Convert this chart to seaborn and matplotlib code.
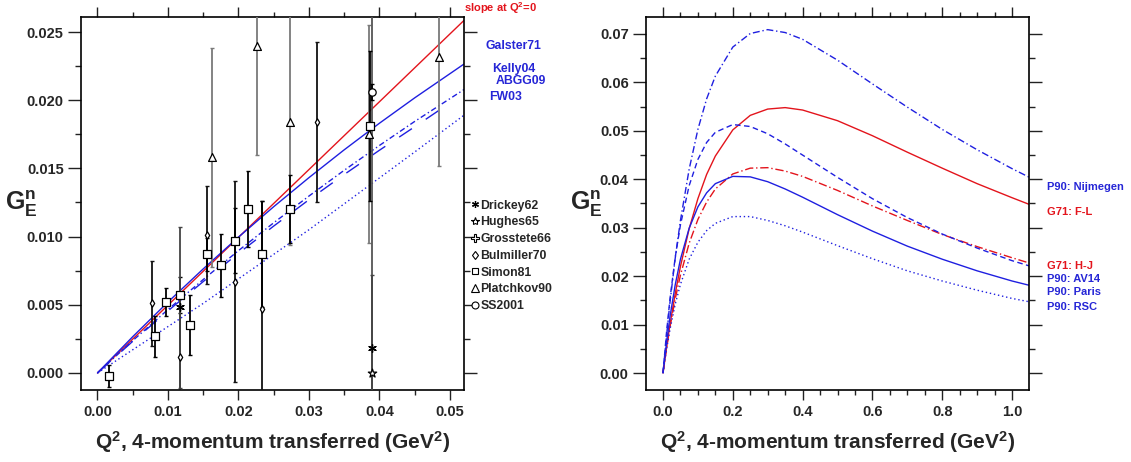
import numpy as np
import pandas as pd
import matplotlib
matplotlib.use("Agg")
import matplotlib.pyplot as plt
import seaborn as sns
from matplotlib.ticker import MultipleLocator, FormatStrFormatter
from matplotlib.lines import Line2D

# ---------------- data: left panel (low Q^2) ----------------
q2_slope = [0.0, 0.052]
ge_slope = [0.0, 0.02585]

q2_low = [0.0, 0.005, 0.01, 0.015, 0.02, 0.025, 0.03, 0.035, 0.04, 0.045, 0.052]
ge_galster71 = [0.0, 0.00266, 0.0052, 0.00763, 0.00996, 0.01219, 0.01432, 0.01636, 0.01831, 0.02017, 0.02265]
ge_kelly04 = [0.0, 0.00237, 0.00465, 0.00685, 0.00897, 0.01101, 0.01297, 0.01486, 0.01668, 0.01844, 0.02078]
ge_fw03 = [0.0, 0.0017, 0.0034, 0.0051, 0.0069, 0.0087, 0.0105, 0.0124, 0.0143, 0.0162, 0.0189]
q2_abgg = [0.0, 0.005, 0.01, 0.015, 0.02, 0.025, 0.03, 0.035, 0.04, 0.045, 0.0495]
ge_abgg09 = [0.0, 0.00232, 0.00455, 0.0067, 0.00877, 0.01077, 0.0127, 0.01455, 0.01633, 0.01805, 0.01962]

q2_simon = [0.0017, 0.0082, 0.0097, 0.0117, 0.0131, 0.0156, 0.0175, 0.0195, 0.0214, 0.0234, 0.0273, 0.0387]
ge_simon = [-0.0002, 0.0027, 0.0052, 0.0057, 0.0035, 0.0087, 0.0079, 0.0097, 0.0120, 0.0087, 0.0120, 0.0181]
err_simon = [0.0008, 0.0015, 0.0010, 0.0013, 0.0022, 0.0012, 0.0023, 0.0024, 0.0028, 0.0039, 0.0025, 0.0055]

q2_bulmiller = [0.0078, 0.0117, 0.0156, 0.0195, 0.0234, 0.0312]
ge_bulmiller = [0.0051, 0.0012, 0.0101, 0.0067, 0.0047, 0.0184]
err_bulmiller = [0.0031, 0.0045, 0.0036, 0.0074, 0.0079, 0.0059]

q2_platchkov = [0.0162, 0.0226, 0.0273, 0.0385, 0.0485]
ge_platchkov = [0.0158, 0.0240, 0.0184, 0.0175, 0.0232]
err_platchkov = [0.0080, 0.0080, 0.0090, 0.0080, 0.0080]

q2_drickey = [0.0117, 0.0390]
ge_drickey = [0.0048, 0.0018]
err_drickey = [0.0059, 0.0054]

q2_hughes = [0.0390]
ge_hughes = [0.0]
err_hughes = [0.030]

q2_ss2001 = [0.0390]
ge_ss2001 = [0.0206]
err_ss2001 = [0.0006]

legend_labels = ["Drickey62", "Hughes65", "Grosstete66", "Bulmiller70",
                 "Simon81", "Platchkov90", "SS2001"]

# ---------------- data: right panel (wide Q^2) ----------------
q2_wide = [0, 0.01, 0.02, 0.035, 0.05, 0.075, 0.1, 0.125, 0.15, 0.2, 0.25, 0.3,
           0.35, 0.4, 0.5, 0.6, 0.7, 0.8, 0.9, 1.0, 1.05]
ge_nijmegen = [0, .0076, .0146, .0237, .0315, .0421, .0503, .0566, .0613, .0673, .0701, .0709,
               .0703, .0689, .0646, .0597, .0549, .0503, .0461, .0422, .0404]
ge_fl = [0, .0052, .0100, .0164, .0220, .0298, .0360, .0410, .0448, .0502, .0532, .0545,
         .0548, .0543, .0521, .0490, .0456, .0423, .0391, .0362, .0348]
ge_hj = [0, .0050, .0095, .0153, .0202, .0268, .0317, .0353, .0380, .0411, .0423, .0424,
         .0417, .0406, .0377, .0345, .0315, .0286, .0261, .0238, .0227]
ge_av14 = [0, .0083, .0153, .0239, .0306, .0387, .0441, .0476, .0497, .0513, .0509, .0494,
           .0473, .0450, .0404, .0360, .0321, .0287, .0258, .0232, .0221]
ge_paris = [0, .0062, .0116, .0182, .0235, .0299, .0343, .0372, .0391, .0406, .0405, .0395,
            .0380, .0363, .0327, .0293, .0262, .0235, .0211, .0190, .0181]
ge_rsc = [0, .0048, .0090, .0142, .0183, .0235, .0270, .0294, .0309, .0323, .0323, .0315,
          .0304, .0291, .0263, .0236, .0211, .0190, .0171, .0154, .0147]

# ---------------- style ----------------
sns.set_style("ticks")
plt.rcParams["font.family"] = ["Liberation Sans", "DejaVu Sans"]
plt.rcParams["font.weight"] = "bold"
plt.rcParams["mathtext.fontset"] = "custom"
plt.rcParams["mathtext.rm"] = "Liberation Sans:bold"
plt.rcParams["mathtext.bf"] = "Liberation Sans:bold"
plt.rcParams["mathtext.it"] = "Liberation Sans:bold"
plt.rcParams["lines.scale_dashes"] = False
plt.rcParams["axes.linewidth"] = 1.2

RED = "#e3141c"
BLUE = "#1f1fe0"
TXTBLUE = "#2626d6"

fig = plt.figure(figsize=(11.31, 4.62), dpi=100)
W, H = 1131.0, 462.0
axL = fig.add_axes([81 / W, 1 - 390 / H, 383 / W, 373 / H])
axR = fig.add_axes([646 / W, 1 - 390 / H, 383 / W, 373 / H])

LW = 1.0

# ---- left curves ----
sns.lineplot(x=q2_slope, y=ge_slope, ax=axL, color=RED, lw=LW, sort=False, estimator=None)
sns.lineplot(x=q2_low, y=ge_galster71, ax=axL, color=BLUE, lw=LW, sort=False, estimator=None)
sns.lineplot(x=q2_low, y=ge_kelly04, ax=axL, color=BLUE, lw=LW, sort=False, estimator=None,
             linestyle=(0, (4, 2, 1, 2)))
sns.lineplot(x=q2_abgg, y=ge_abgg09, ax=axL, color=BLUE, lw=LW, sort=False, estimator=None,
             linestyle=(0, (11, 12)))
sns.lineplot(x=q2_low, y=ge_fw03, ax=axL, color=BLUE, lw=LW, sort=False, estimator=None,
             linestyle=(0, (1, 2)))

# ---- left data points ----
def points(x, y, e, marker, size, ecolor, fc="white", ec="black"):
    axL.errorbar(x, y, yerr=e, fmt="none", ecolor=ecolor, elinewidth=1.3, capsize=1.5,
                 capthick=1.0, zorder=3)
    sns.scatterplot(x=x, y=y, ax=axL, marker=marker, s=size, color=fc, edgecolor=ec,
                    linewidth=0.9, zorder=4)

points(q2_platchkov, ge_platchkov, err_platchkov, "^", 32, "#7a7a7a")
points(q2_hughes, ge_hughes, err_hughes, "*", 40, "#555555")
points(q2_bulmiller, ge_bulmiller, err_bulmiller, "d", 14, "#111111")
points(q2_simon, ge_simon, err_simon, "s", 28, "#000000")
points(q2_ss2001, ge_ss2001, err_ss2001, "o", 28, "#000000")
axL.errorbar(q2_drickey, ge_drickey, yerr=err_drickey, fmt="none", ecolor="#444444",
             elinewidth=1.3, capsize=1.5, zorder=3)
sns.scatterplot(x=q2_drickey, y=ge_drickey, ax=axL, marker=(6, 2, 0), s=30, color="black",
                linewidth=1.0, zorder=4)

# ---- right curves ----
sns.lineplot(x=q2_wide, y=ge_nijmegen, ax=axR, color=BLUE, lw=LW, sort=False, estimator=None,
             linestyle=(0, (5, 2, 1, 2)))
sns.lineplot(x=q2_wide, y=ge_fl, ax=axR, color=RED, lw=LW, sort=False, estimator=None)
sns.lineplot(x=q2_wide, y=ge_hj, ax=axR, color=RED, lw=LW, sort=False, estimator=None,
             linestyle=(0, (6, 2, 1, 2)))
sns.lineplot(x=q2_wide, y=ge_av14, ax=axR, color=BLUE, lw=LW, sort=False, estimator=None,
             linestyle=(0, (4, 2.5)))
sns.lineplot(x=q2_wide, y=ge_paris, ax=axR, color=BLUE, lw=LW, sort=False, estimator=None)
sns.lineplot(x=q2_wide, y=ge_rsc, ax=axR, color=BLUE, lw=LW, sort=False, estimator=None,
             linestyle=(0, (1, 2)))

# ---- axes formatting ----
axL.set_xlim(-0.00234, 0.0520)
axL.set_ylim(-0.00125, 0.0261)
axR.set_xlim(-0.0487, 1.0487)
axR.set_ylim(-0.00351, 0.07351)

axL.xaxis.set_major_locator(MultipleLocator(0.01))
axL.xaxis.set_minor_locator(MultipleLocator(0.005))
axL.yaxis.set_major_locator(MultipleLocator(0.005))
axL.yaxis.set_minor_locator(MultipleLocator(0.0025))
axL.xaxis.set_major_formatter(FormatStrFormatter("%.2f"))
axL.yaxis.set_major_formatter(FormatStrFormatter("%.3f"))

axR.xaxis.set_major_locator(MultipleLocator(0.2))
axR.xaxis.set_minor_locator(MultipleLocator(0.05))
axR.yaxis.set_major_locator(MultipleLocator(0.01))
axR.yaxis.set_minor_locator(MultipleLocator(0.005))
axR.xaxis.set_major_formatter(FormatStrFormatter("%.1f"))
axR.yaxis.set_major_formatter(FormatStrFormatter("%.2f"))

xlabel = r"$\mathbf{Q^{2}}$, 4-momentum transferred (GeV$^{\mathbf{2}}$)"
ylabel = r"$\mathbf{G^{n}_{E}}$"
for ax in (axL, axR):
    for s in ax.spines.values():
        s.set_visible(True)
        s.set_color("black")
        s.set_linewidth(1.2)
    ax.tick_params(which="both", direction="out", top=True, right=True,
                   labeltop=False, labelright=False, color="#222222", width=1.0)
    ax.tick_params(axis="x", which="major", length=7, pad=4, labelsize=10.5)
    ax.tick_params(axis="x", which="minor", length=3.3)
    ax.tick_params(axis="y", which="major", length=9.5, pad=3, labelsize=10.5)
    ax.tick_params(axis="y", which="minor", length=4.5)
    for lab in ax.get_xticklabels() + ax.get_yticklabels():
        lab.set_fontweight("bold")
    ax.set_xlabel(xlabel, fontsize=15, fontweight="bold")
    ax.xaxis.set_label_coords(0.5, -0.105)
    ax.set_ylabel(ylabel, fontsize=18, rotation=0, ha="center", va="center")
    ax.yaxis.set_label_coords(-0.155, 0.5)
    ax.grid(False)

# ---- left annotations ----
axL.text(1.0, 1.024, r"slope at Q$^{\mathbf{2}}$=0", transform=axL.transAxes, color=RED,
         fontsize=8, fontweight="bold", ha="left", va="center")
for txt, x, y in [("Galster71", 1.055, 0.922), ("Kelly04", 1.073, 0.861),
                  ("ABGG09", 1.084, 0.828), ("FW03", 1.065, 0.786)]:
    axL.text(x, y, txt, transform=axL.transAxes, color=TXTBLUE, fontsize=8.8,
             fontweight="bold", ha="left", va="center")

handles = [
    Line2D([], [], ls="none", marker=(6, 2, 0), ms=5, mec="black", mew=0.9),
    Line2D([], [], ls="none", marker="*", ms=6, mfc="white", mec="black", mew=0.8),
    Line2D([], [], ls="none", marker="P", ms=5.5, mfc="white", mec="black", mew=0.8),
    Line2D([], [], ls="none", marker="d", ms=4.5, mfc="white", mec="black", mew=0.8),
    Line2D([], [], ls="none", marker="s", ms=5, mfc="white", mec="black", mew=0.8),
    Line2D([], [], ls="none", marker="^", ms=5.5, mfc="white", mec="black", mew=0.8),
    Line2D([], [], ls="none", marker="o", ms=5, mfc="white", mec="black", mew=0.8),
]
leg = axL.legend(handles, legend_labels, loc="upper left",
                 bbox_to_anchor=(470.5 / W, 1 - 199.5 / H), bbox_transform=fig.transFigure,
                 frameon=False, fontsize=8.8, handlelength=0.8, handletextpad=0.0,
                 labelspacing=0.39, borderpad=0, borderaxespad=0)
for t in leg.get_texts():
    t.set_fontweight("bold")

# ---- right annotations ----
for txt, y, c in [("P90: Nijmegen", 0.544, TXTBLUE), ("G71: F-L", 0.477, RED),
                  ("G71: H-J", 0.332, RED), ("P90: AV14", 0.298, TXTBLUE),
                  ("P90: Paris", 0.263, TXTBLUE), ("P90: RSC", 0.223, TXTBLUE)]:
    axR.text(1.047, y, txt, transform=axR.transAxes, color=c, fontsize=8,
             fontweight="bold", ha="left", va="center")

fig.savefig("out.png", dpi=100)
